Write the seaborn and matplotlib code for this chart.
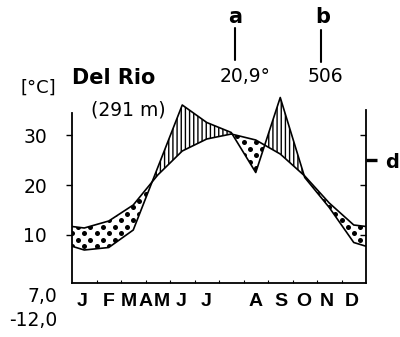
import numpy as np
import matplotlib
matplotlib.use("Agg")
import matplotlib.pyplot as plt
import matplotlib.transforms as mtransforms
from matplotlib.path import Path
from matplotlib.lines import Line2D
import seaborn as sns

# Klimadiagramm Del Rio (291 m)
months = ["J", "F", "M", "A", "M", "J", "J", "A", "S", "O", "N", "D"]
temp_c = [11.4, 12.8, 16.0, 22.0, 26.8, 29.2, 30.2, 29.0, 26.2, 21.8, 16.4, 12.0]
precip_mm = [14, 15, 22, 47, 72, 65, 61, 45, 75, 43, 31, 17]
station = "Del Rio"
altitude = "(291 m)"
mean_temp = "20,9°"
annual_precip = "506"
temp_min_labels = ["7,0", "-12,0"]

# Layout (label positions in month units, typeset as in the original)
month_label_pos = [0.41, 1.51, 2.33, 3.02, 3.67, 4.45, 5.47, 7.51, 8.53, 9.47, 10.41, 11.43]

sns.set_style("white")
plt.rcParams["font.family"] = ["DejaVu Sans"]
plt.rcParams["hatch.linewidth"] = 1.0
for k in ["text.color", "axes.labelcolor", "xtick.color", "ytick.color", "axes.edgecolor"]:
    plt.rcParams[k] = "black"

W, H = 400, 337
def fx(px):
    return px / W
def fy(py):
    return 1 - py / H

fig = plt.figure(figsize=(4, 3.37), dpi=100)
ax = fig.add_axes([fx(72), fy(283), 294 / W, 191 / H])

x = np.arange(12) + 0.5
temp = np.array(temp_c)
prec = np.array(precip_mm) / 2.0  # 10 °C = 20 mm
edge_t = (temp[0] + temp[-1]) / 2
edge_p = (prec[0] + prec[-1]) / 2
xe = np.concatenate([[0], x, [12]])
te = np.concatenate([[edge_t], temp, [edge_t]])
pe = np.concatenate([[edge_p], prec, [edge_p]])

# humid period: vertical hatching
ax.fill_between(xe, te, pe, where=pe >= te, interpolate=True,
                facecolor="white", edgecolor="black", hatch="||||", linewidth=0)

# arid period: dots
dry = ax.fill_between(xe, te, pe, where=te >= pe, interpolate=True,
                      facecolor="none", edgecolor="none")
clip = Path.make_compound_path(*dry.get_paths())
gx, gy = [], []
for i, yy in enumerate(np.arange(0.0, 38.6, 1.3)):
    for xx in np.arange((i % 2) * 0.25, 12, 0.5):
        gx.append(xx)
        gy.append(yy)
dots = ax.scatter(gx, gy, s=13, c="black", linewidths=0)
dots.set_clip_path(clip, ax.transData)

sns.lineplot(x=xe, y=te, color="black", lw=1.2, ax=ax)
sns.lineplot(x=xe, y=pe, color="black", lw=1.2, ax=ax)

ax.set_xlim(0, 12)
ax.set_ylim(0.4, 38.6)
ax.set_xlabel("")
ax.set_ylabel("")

ax.set_yticks([10, 20, 30])
ax.tick_params(axis="y", direction="out", length=4, width=1, pad=14,
               labelsize=13.5, left=True, right=False)
ax.set_xticks([])
ax.set_xticks(range(1, 12), minor=True)
ax.tick_params(axis="x", which="minor", direction="in", length=2.5, width=0.8, bottom=True)

ax.spines["top"].set_visible(False)
ax.spines["right"].set_visible(False)
for s in ["left", "bottom"]:
    ax.spines[s].set_color("black")
    ax.spines[s].set_linewidth(1.3)
ax.spines["left"].set_bounds(0.4, 34.4)

ax2 = ax.twinx()
ax2.set_ylim(ax.get_ylim())
ax2.set_yticks([10, 20, 30])
ax2.set_yticks([25], minor=True)
ax2.set_yticklabels(["d"], minor=True)
ax2.tick_params(axis="y", which="major", direction="in", length=4, width=1, labelright=False)
ax2.tick_params(axis="y", which="minor", direction="out", length=8, width=2.4,
                pad=6, labelsize=14)
for lab in ax2.get_yticklabels(minor=True):
    lab.set_fontweight("bold")
for s in ["top", "left", "bottom"]:
    ax2.spines[s].set_visible(False)
ax2.spines["right"].set_color("black")
ax2.spines["right"].set_linewidth(1.3)
ax2.spines["right"].set_bounds(0.4, 35.0)
ax2.grid(False)

# month letters
tr = mtransforms.blended_transform_factory(ax.transData, ax.transAxes)
for m, p in zip(months, month_label_pos):
    ax.text(p, -0.099, m, transform=tr, ha="center", va="center",
            fontsize=14, fontweight="bold", family="Liberation Sans")

# header texts
fig.text(fx(38), fy(88), "[°C]", ha="center", va="center", fontsize=13)
fig.text(fx(72), fy(78), station, ha="left", va="center", fontsize=15, fontweight="bold")
fig.text(fx(128), fy(110), altitude, ha="center", va="center", fontsize=13.5)

fig.text(fx(235), fy(17), "a", ha="center", va="center", fontsize=15, fontweight="bold")
fig.add_artist(Line2D([fx(235), fx(235)], [fy(28), fy(60)], color="black", lw=1.5))
fig.text(fx(245), fy(76), mean_temp, ha="center", va="center", fontsize=13.5)

fig.text(fx(323), fy(17), "b", ha="center", va="center", fontsize=15, fontweight="bold")
fig.add_artist(Line2D([fx(321), fx(321)], [fy(30), fy(62)], color="black", lw=1.5))
fig.text(fx(325), fy(76), annual_precip, ha="center", va="center", fontsize=13.5)

fig.text(fx(57), fy(297), temp_min_labels[0], ha="right", va="center", fontsize=13.5)
fig.text(fx(57), fy(320), temp_min_labels[1], ha="right", va="center", fontsize=13.5)

fig.savefig("out.png", dpi=100, facecolor="white")
